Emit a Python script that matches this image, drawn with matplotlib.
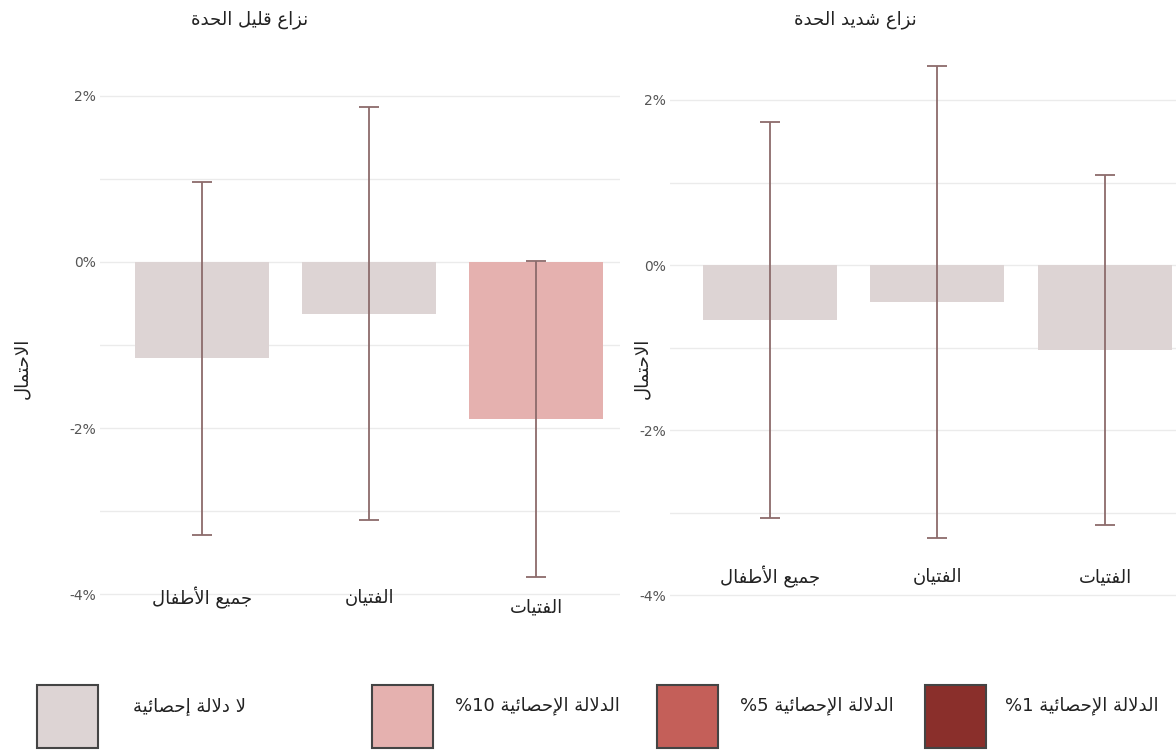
import re
import matplotlib
matplotlib.use("Agg")
import matplotlib.pyplot as plt
import matplotlib.transforms as mtransforms
from matplotlib.patches import Rectangle

# values in %
groups = ["جميع الأطفال", "الفتيان", "الفتيات"]

low_title = "نزاع قليل الحدة"
low_bar = [-1.16, -0.63, -1.89]
low_lo = [-3.29, -3.11, -3.80]
low_hi = [0.96, 1.87, 0.01]
low_sig = ["ns", "ns", "10"]

high_title = "نزاع شديد الحدة"
high_bar = [-0.67, -0.45, -1.03]
high_lo = [-3.07, -3.31, -3.15]
high_hi = [1.73, 2.41, 1.09]
high_sig = ["ns", "ns", "ns"]

y_label = "الاحتمال"
y_ticks = [2, 0, -2, -4]
y_ticklabels = ["2%", "0%", "-2%", "-4%"]

sig_levels = ["ns", "10", "5", "1"]
sig_labels = ["لا دلالة إحصائية", "الدلالة الإحصائية 10%",
              "الدلالة الإحصائية 5%", "الدلالة الإحصائية 1%"]
sig_colors = ["#ddd4d4", "#e5b1af", "#c45f59", "#8a2f2b"]

# --- minimal arabic shaping (matplotlib has no text shaping) ---
FORMS = {
    'ا': ('\ufe8d', '\ufe8e', None, None),
    'أ': ('\ufe83', '\ufe84', None, None),
    'إ': ('\ufe87', '\ufe88', None, None),
    'ة': ('\ufe93', '\ufe94', None, None),
    'د': ('\ufea9', '\ufeaa', None, None),
    'ز': ('\ufeaf', '\ufeb0', None, None),
    'ت': ('\ufe95', '\ufe96', '\ufe97', '\ufe98'),
    'ج': ('\ufe9d', '\ufe9e', '\ufe9f', '\ufea0'),
    'ح': ('\ufea1', '\ufea2', '\ufea3', '\ufea4'),
    'ش': ('\ufeb5', '\ufeb6', '\ufeb7', '\ufeb8'),
    'ص': ('\ufeb9', '\ufeba', '\ufebb', '\ufebc'),
    'ط': ('\ufec1', '\ufec2', '\ufec3', '\ufec4'),
    'ع': ('\ufec9', '\ufeca', '\ufecb', '\ufecc'),
    'ف': ('\ufed1', '\ufed2', '\ufed3', '\ufed4'),
    'ق': ('\ufed5', '\ufed6', '\ufed7', '\ufed8'),
    'ل': ('\ufedd', '\ufede', '\ufedf', '\ufee0'),
    'م': ('\ufee1', '\ufee2', '\ufee3', '\ufee4'),
    'ن': ('\ufee5', '\ufee6', '\ufee7', '\ufee8'),
    'ي': ('\ufef1', '\ufef2', '\ufef3', '\ufef4'),
    'ئ': ('\ufe89', '\ufe8a', '\ufe8b', '\ufe8c'),
}
LAM_ALEF = {'ا': ('\ufefb', '\ufefc'), 'أ': ('\ufef7', '\ufef8'), 'إ': ('\ufef9', '\ufefa')}


def ar(text):
    out = []
    i, n = 0, len(text)
    while i < n:
        c = text[i]
        if c not in FORMS:
            out.append(c)
            i += 1
            continue
        prev = text[i - 1] if i > 0 else ''
        joins_prev = prev in FORMS and FORMS[prev][2] is not None
        if c == 'ل' and i + 1 < n and text[i + 1] in LAM_ALEF:
            out.append(LAM_ALEF[text[i + 1]][1 if joins_prev else 0])
            i += 2
            continue
        nxt = text[i + 1] if i + 1 < n else ''
        joins_next = FORMS[c][2] is not None and nxt in FORMS
        iso, fin, ini, med = FORMS[c]
        if joins_prev and joins_next:
            out.append(med)
        elif joins_prev:
            out.append(fin)
        elif joins_next:
            out.append(ini)
        else:
            out.append(iso)
        i += 1
    runs = re.findall(r'[0-9]+|[^0-9]', ''.join(out))
    return ''.join(reversed(runs))


plt.rcParams['font.family'] = ['DejaVu Sans']

W, H = 1176, 752
fig = plt.figure(figsize=(W / 100, H / 100), dpi=100)
color_of = dict(zip(sig_levels, sig_colors))
err_color = "#8c6b6b"
txt_size = 13


def px(x0, y0, x1, y1):
    return [x0 / W, 1 - y1 / H, (x1 - x0) / W, (y1 - y0) / H]


panels = [
    dict(rect=px(100, 50, 620, 640), ylim=(-4.554, 2.554), xlim=(-0.611, 2.503),
         title=low_title, tx=250, bar=low_bar, lo=low_lo, hi=low_hi, sig=low_sig,
         lab_y=[598, 598, 607], ylab_x=22),
    dict(rect=px(670, 50, 1176, 640), ylim=(-4.545, 2.606), xlim=(-0.597, 2.424),
         title=high_title, tx=855, bar=high_bar, lo=high_lo, hi=high_hi, sig=high_sig,
         lab_y=[577, 577, 577], ylab_x=642),
]

for p in panels:
    ax = fig.add_axes(p["rect"])
    x = list(range(len(groups)))
    yerr = [[b - l for b, l in zip(p["bar"], p["lo"])],
            [h - b for b, h in zip(p["bar"], p["hi"])]]
    ax.bar(x, p["bar"], width=0.8, color=[color_of[s] for s in p["sig"]], zorder=2)
    ax.errorbar(x, p["bar"], yerr=yerr, fmt='none', ecolor=err_color,
                elinewidth=1.3, capsize=7, capthick=1.3, zorder=3)
    ax.set_xlim(*p["xlim"])
    ax.set_ylim(*p["ylim"])
    ax.set_yticks(y_ticks)
    ax.set_yticklabels(y_ticklabels, color="#555555", fontsize=10)
    ax.set_yticks([1, -1, -3], minor=True)
    ax.grid(True, axis='y', which='both', color="#ebebeb", lw=1, zorder=0)
    ax.set_xticks([])
    ax.tick_params(axis='y', which='both', length=0, pad=3)
    for s in ax.spines.values():
        s.set_visible(False)
    trans = mtransforms.blended_transform_factory(ax.transData, fig.transFigure)
    for xi, g, ly in zip(x, groups, p["lab_y"]):
        ax.text(xi, 1 - ly / H, ar(g), transform=trans, ha='center', va='center',
                fontsize=txt_size, color="#222222")
    fig.text(p["tx"] / W, 1 - 20 / H, ar(p["title"]), ha='center', va='center',
             fontsize=txt_size, color="#222222")
    fig.text(p["ylab_x"] / W, 1 - 368 / H, ar(y_label), rotation=90, ha='center',
             va='center', fontsize=txt_size, color="#222222")

# legend along the bottom
box_x = [37, 372, 657, 925]
text_x = [133, 455, 740, 1005]
for bx, tx, lab, col in zip(box_x, text_x, sig_labels, sig_colors):
    fig.add_artist(Rectangle((bx / W, 1 - 748 / H), 61 / W, 63 / H,
                             facecolor=col, edgecolor="#444444", lw=1.5,
                             transform=fig.transFigure))
    fig.text(tx / W, 1 - 706 / H, ar(lab), ha='left', va='center',
             fontsize=txt_size, color="#222222")

fig.savefig("out.png", dpi=100, facecolor="white")
